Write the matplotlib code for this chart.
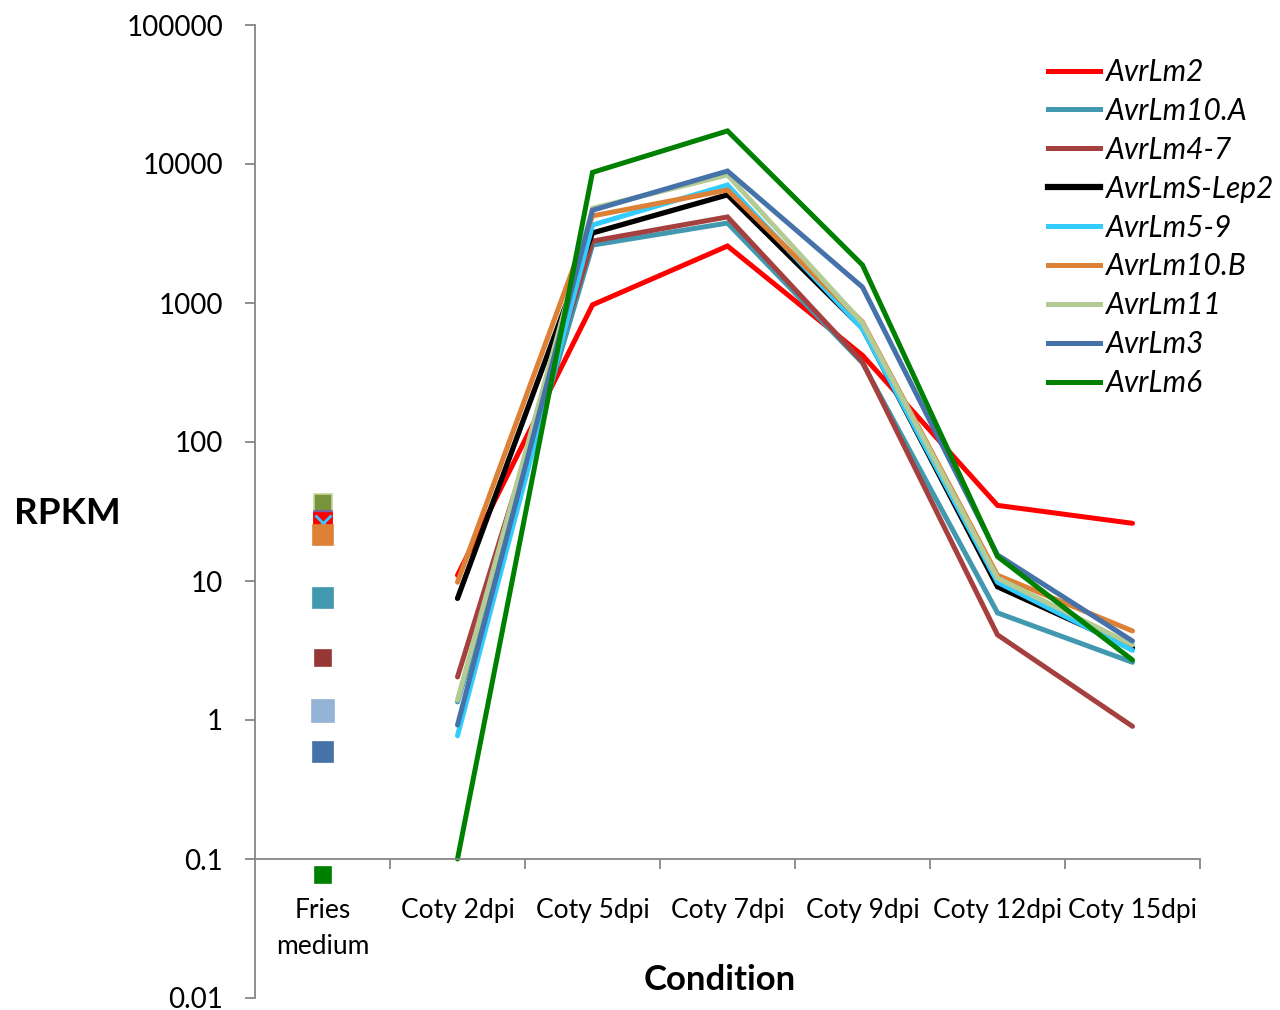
import matplotlib
matplotlib.use("Agg")
import matplotlib.pyplot as plt
from matplotlib.lines import Line2D

plt.rcParams['font.family'] = ['Lato', 'DejaVu Sans']

categories = ["Fries\nmedium", "Coty 2dpi", "Coty 5dpi", "Coty 7dpi", "Coty 9dpi", "Coty 12dpi", "Coty 15dpi"]

genes = ["AvrLm2", "AvrLm10.A", "AvrLm4-7", "AvrLmS-Lep2", "AvrLm5-9",
         "AvrLm10.B", "AvrLm11", "AvrLm3", "AvrLm6"]
line_colors = ["#FF0000", "#4198AF", "#A5403E", "#000000", "#33CCFF",
               "#DD8136", "#B5CB96", "#4672AA", "#008000"]

# values for Coty 2dpi .. Coty 15dpi
avrlm2 = [11, 970, 2570, 420, 35, 26]
avrlm10a = [1.35, 2610, 3760, 370, 5.9, 2.6]
avrlm4_7 = [2.04, 2790, 4160, 377, 4.1, 0.9]
avrlms_lep2 = [7.5, 3190, 6000, 660, 9.1, 3.3]
avrlm5_9 = [0.77, 3640, 7060, 650, 9.8, 3.17]
avrlm10b = [9.8, 4230, 6500, 730, 11, 4.37]
avrlm11 = [1.39, 4800, 8340, 718, 10.5, 3.47]
avrlm3 = [0.92, 4650, 8900, 1300, 15.4, 3.7]
avrlm6 = [0.1, 8700, 17300, 1875, 15, 2.7]
series = [avrlm2, avrlm10a, avrlm4_7, avrlms_lep2, avrlm5_9,
          avrlm10b, avrlm11, avrlm3, avrlm6]

# Fries medium single-point markers
fries_values = [36.4, 27.5, 26.5, 26.0, 21.4, 7.5, 2.8, 1.16, 0.59, 0.077]
fries_colors = ["#77933C", "#7F5FA0", "#FF0000", "#33CCFF", "#DD8136",
                "#4198AF", "#953735", "#95B3D7", "#4672AA", "#008000"]
fries_markers = ["s", "s", "s", "x", "s", "s", "s", "s", "s", "s"]
fries_sizes = [13, 13, 13, 12, 15, 15, 12, 16, 14, 12]

fig = plt.figure(figsize=(12.8, 10.1), dpi=100)
ax = fig.add_axes([255/1280, 1 - 998/1010, (1200 - 255)/1280, (998 - 25)/1010])

xs = list(range(1, 7))
for name, vals, col in zip(genes, series, line_colors):
    lw = 3.6 if name != "AvrLmS-Lep2" else 3.8
    ax.plot(xs, vals, color=col, lw=lw, solid_capstyle='round',
            solid_joinstyle='miter', label=name, clip_on=False)

for v, c, m, s in zip(fries_values, fries_colors, fries_markers, fries_sizes):
    if m == "x":
        ax.plot([0], [v], marker=m, color=c, markersize=s, mew=2, clip_on=False)
    else:
        edge = "#C3D69B" if c == "#77933C" else c
        ax.plot([0], [v], marker=m, color=c, markersize=s, mec=edge, mew=1.2,
                clip_on=False, linestyle='none')

ax.set_yscale('log')
ax.set_ylim(0.01, 100000)
ax.set_xlim(-0.5, 6.5)

ax.set_yticks([0.01, 0.1, 1, 10, 100, 1000, 10000, 100000])
ax.set_yticklabels(["0.01", "0.1", "1", "10", "100", "1000", "10000", "100000"])
ax.yaxis.set_minor_locator(matplotlib.ticker.NullLocator())

ax.set_xticks(range(7))
ax.set_xticklabels(categories)
ax.set_xticks([i + 0.5 for i in range(7)], minor=True)

spine_col = "#868686"
for s in ['top', 'right']:
    ax.spines[s].set_visible(False)
ax.spines['bottom'].set_position(('data', 0.1))
ax.spines['bottom'].set_color(spine_col)
ax.spines['left'].set_color(spine_col)
ax.spines['bottom'].set_linewidth(1.3)
ax.spines['left'].set_linewidth(1.3)

ax.tick_params(axis='x', which='major', length=0, pad=28, labelsize=19)
ax.tick_params(axis='x', which='minor', length=7, width=1.3, color=spine_col, direction='out')
ax.tick_params(axis='y', which='major', length=7, width=1.3, color=spine_col,
               direction='out', pad=16, labelsize=20)
for tk in ax.xaxis.get_major_ticks():
    tk.label1.set_linespacing(1.55)

fig.text(67/1280, 1 - 513/1010, "RPKM", fontsize=26.5, fontweight='bold',
         ha='center', va='center')
fig.text(720/1280, 1 - 980/1010, "Condition", fontsize=25, fontweight='bold',
         ha='center', va='center')

leg_handles = [Line2D([0], [0], color=c, lw=(4.5 if c == "#000000" else 3.6))
               for c in line_colors]
fig.legend(leg_handles, genes, loc='upper left',
           bbox_to_anchor=(1048/1280, 1 - 58/1010), frameon=False,
           prop={'style': 'italic', 'size': 21.5}, handlelength=1.75,
           handletextpad=0.2, labelspacing=0.365, borderaxespad=0, borderpad=0)

fig.savefig("out.png", dpi=100)
